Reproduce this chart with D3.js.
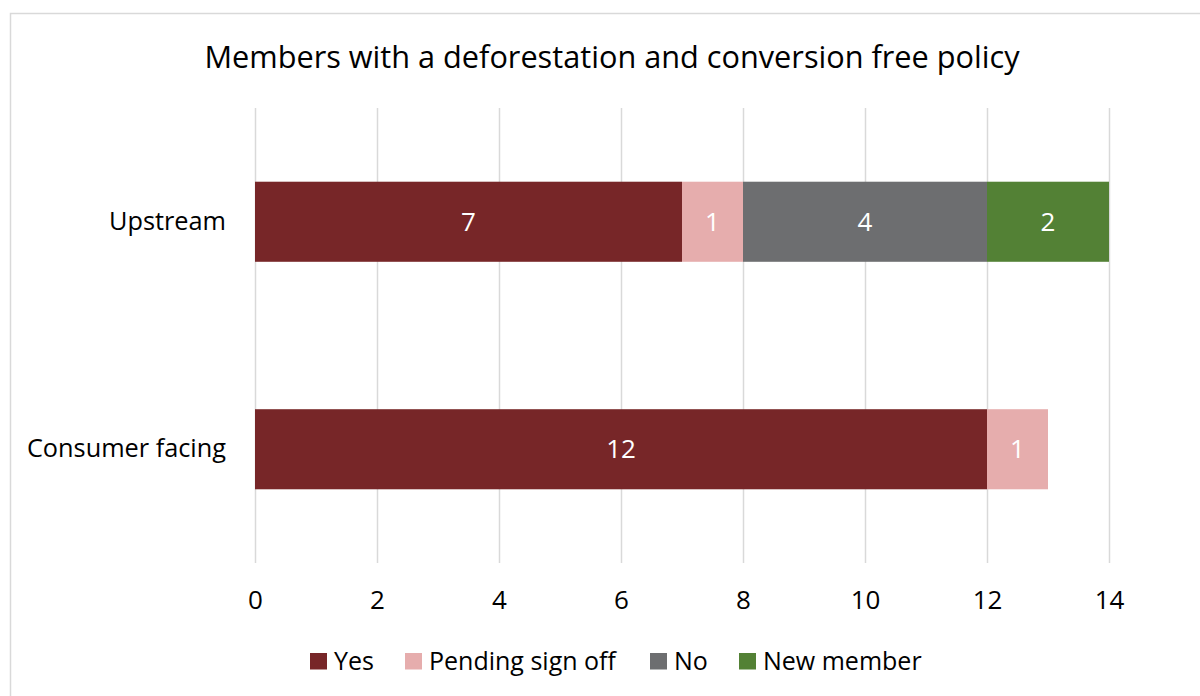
<!DOCTYPE html>
<html>
<head>
<meta charset="utf-8">
<script src="https://cdn.jsdelivr.net/npm/d3@7"></script>
<style>
  body { margin: 0; background: #fff; }
  svg text { font-family: "Open Sans", Calibri, sans-serif; }
</style>
</head>
<body>
<div id="chart"></div>
<script>
// Data
const categories = ["Upstream", "Consumer facing"];
const seriesNames = ["Yes", "Pending sign off", "No", "New member"];
const yesValues = [7, 12];
const pendingValues = [1, 1];
const noValues = [4, 0];
const newMemberValues = [2, 0];
const xTicks = [0, 2, 4, 6, 8, 10, 12, 14];

const colors = ["#772628", "#E6ADAD", "#6D6E70", "#538135"];

const W = 1200, H = 696;
const margin = { top: 108, right: 91, bottom: 133, left: 255 };
const width = W - margin.left - margin.right;
const height = H - margin.top - margin.bottom;

const svgRoot = d3.select("#chart")
    .append("svg")
    .attr("width", W)
    .attr("height", H);

// Chart border
svgRoot.append("rect")
    .attr("x", 10.5).attr("y", 13.5)
    .attr("width", W).attr("height", H)
    .attr("fill", "#fff")
    .attr("stroke", "#d9d9d9")
    .attr("stroke-width", 1.5);

// Title
svgRoot.append("text")
    .attr("x", 612)
    .attr("y", 68)
    .attr("text-anchor", "middle")
    .attr("font-size", 30.7)
    .attr("fill", "#000")
    .text("Members with a deforestation and conversion free policy");

const svg = svgRoot.append("g")
    .attr("transform", `translate(${margin.left},${margin.top})`);

// Build stacked rows
const rows = categories.map((c, i) => ({
    category: c,
    "Yes": yesValues[i],
    "Pending sign off": pendingValues[i],
    "No": noValues[i],
    "New member": newMemberValues[i]
}));
const stacked = d3.stack().keys(seriesNames)(rows);

const x = d3.scaleLinear().domain([0, 14]).range([0, width]);
const y = d3.scaleBand()
    .domain(categories)
    .range([0, height])
    .paddingInner(0.648)
    .paddingOuter(0.324);
const color = d3.scaleOrdinal().domain(seriesNames).range(colors);

// Grid lines
svg.append("g")
    .attr("class", "grid")
    .attr("transform", `translate(0,${height})`)
    .call(d3.axisBottom(x).tickValues(xTicks).tickSize(-height).tickFormat(""))
    .call(g => g.select(".domain").remove())
    .selectAll("line")
    .attr("stroke", "#d9d9d9")
    .attr("stroke-width", 1.5);

// X axis labels
svg.append("g")
    .attr("transform", `translate(0,${height})`)
    .call(d3.axisBottom(x).tickValues(xTicks).tickSize(0).tickPadding(28))
    .call(g => g.select(".domain").remove())
    .selectAll("text")
    .attr("font-size", 26)
    .attr("fill", "#000");

// Y axis labels
svg.append("g")
    .call(d3.axisLeft(y).tickSize(0).tickPadding(29))
    .call(g => g.select(".domain").remove())
    .selectAll("text")
    .attr("font-size", 25.3)
    .attr("fill", "#000");

// Bars
const layers = svg.selectAll(".layer")
    .data(stacked)
    .enter()
    .append("g")
    .attr("class", "layer")
    .attr("fill", d => color(d.key));

layers.selectAll("rect")
    .data(d => d.filter(s => s[1] - s[0] > 0))
    .enter()
    .append("rect")
    .attr("x", d => x(d[0]))
    .attr("y", d => y(d.data.category))
    .attr("width", d => x(d[1]) - x(d[0]))
    .attr("height", y.bandwidth());

// Value labels
layers.selectAll("text")
    .data(d => d.filter(s => s[1] - s[0] > 0))
    .enter()
    .append("text")
    .attr("x", d => (x(d[0]) + x(d[1])) / 2)
    .attr("y", d => y(d.data.category) + y.bandwidth() / 2)
    .attr("dy", "0.35em")
    .attr("text-anchor", "middle")
    .attr("font-size", 26)
    .attr("fill", "#fff")
    .text(d => d[1] - d[0]);

// Legend
const legendX = [310, 405, 650, 739];
const legend = svgRoot.append("g");
const items = legend.selectAll("g")
    .data(seriesNames)
    .enter()
    .append("g")
    .attr("transform", (d, i) => `translate(${legendX[i]},653)`);
items.append("rect")
    .attr("width", 17).attr("height", 16.5)
    .attr("fill", d => color(d));
items.append("text")
    .attr("x", 24)
    .attr("y", 16.5)
    .attr("font-size", 25)
    .attr("fill", "#000")
    .text(d => d);
</script>
</body>
</html>
